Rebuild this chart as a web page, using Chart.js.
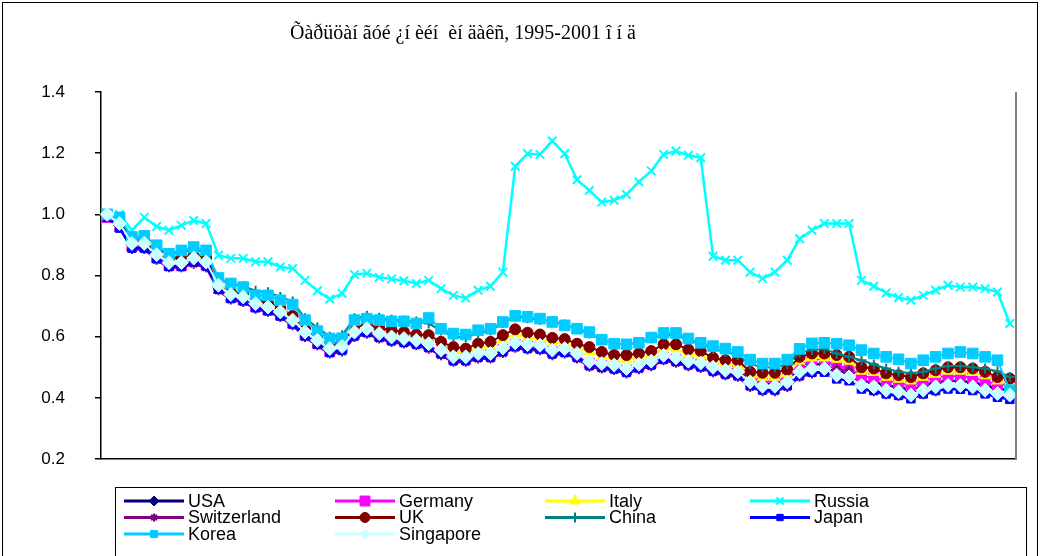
<!DOCTYPE html>
<html>
<head>
<meta charset="utf-8">
<script src="https://cdn.jsdelivr.net/npm/chart.js@4.4.1/dist/chart.umd.min.js"></script>
<style>
html,body{margin:0;padding:0;background:#fff;}
#wrap{position:relative;width:1041px;height:556px;}
</style>
</head>
<body>
<div id="wrap"><canvas id="c" width="1041" height="556"></canvas></div>
<script>
const titleText = "Õàðüöàí ãóé ¿í èéí  èí äàêñ, 1995-2001 î í ä";

const categories = [
"1995-01","1995-02","1995-03","1995-04","1995-05","1995-06","1995-07","1995-08","1995-09","1995-10","1995-11","1995-12",
"1996-01","1996-02","1996-03","1996-04","1996-05","1996-06","1996-07","1996-08","1996-09","1996-10","1996-11","1996-12",
"1997-01","1997-02","1997-03","1997-04","1997-05","1997-06","1997-07","1997-08","1997-09","1997-10","1997-11","1997-12",
"1998-01","1998-02","1998-03","1998-04","1998-05","1998-06","1998-07","1998-08","1998-09","1998-10","1998-11","1998-12",
"1999-01","1999-02","1999-03","1999-04","1999-05","1999-06","1999-07","1999-08","1999-09","1999-10","1999-11","1999-12",
"2000-01","2000-02","2000-03","2000-04","2000-05","2000-06","2000-07","2000-08","2000-09","2000-10","2000-11","2000-12",
"2001-01","2001-02"];

const seriesNames = ["USA","Germany","Italy","Russia","Switzerland","UK","China","Japan","Korea","Singapore"];

const usa = [1.00,0.965,0.9,0.9,0.865,0.84,0.84,0.855,0.842,0.765, 0.735,0.728,0.705,0.695,0.678,0.65,0.612,0.585,0.558,0.566, 0.612,0.623,0.607,0.597,0.592,0.585,0.575,0.553,0.532,0.532, 0.543,0.543,0.56,0.578,0.572,0.57,0.553,0.558,0.543,0.516, 0.51,0.505,0.494,0.508,0.518,0.537,0.529,0.518,0.512,0.498, 0.488,0.49,0.46,0.446,0.446,0.46,0.492,0.51,0.51,0.488, 0.482,0.455,0.45,0.44,0.435,0.424,0.44,0.45,0.456,0.455, 0.45,0.44,0.43,0.425];
const germany = [0.99,0.96,0.895,0.895,0.858,0.832,0.832,0.847,0.834,0.758, 0.728,0.72,0.698,0.687,0.671,0.644,0.605,0.578,0.551,0.563, 0.61,0.621,0.605,0.594,0.589,0.583,0.572,0.551,0.529,0.529, 0.54,0.54,0.558,0.575,0.569,0.567,0.551,0.556,0.54,0.513, 0.507,0.502,0.491,0.505,0.515,0.534,0.526,0.515,0.509,0.495, 0.485,0.50,0.467,0.453,0.453,0.467,0.50,0.526,0.526,0.504, 0.498,0.471,0.466,0.455,0.45,0.439,0.455,0.466,0.471,0.47, 0.466,0.455,0.444,0.442];
const italy = [0.995,0.965,0.902,0.902,0.868,0.847,0.852,0.857,0.85,0.757, 0.735,0.73,0.71,0.70,0.683,0.656,0.613,0.586,0.562,0.572, 0.613,0.628,0.613,0.606,0.60,0.592,0.59,0.568,0.551,0.546, 0.562,0.568,0.59,0.609,0.598,0.592,0.581,0.577,0.562,0.551, 0.535,0.525,0.525,0.53,0.538,0.56,0.56,0.543,0.538,0.516, 0.508,0.508,0.47,0.467,0.467,0.478,0.52,0.53,0.53,0.526, 0.52,0.487,0.483,0.467,0.461,0.455,0.467,0.477,0.487,0.487, 0.483,0.472,0.455,0.452];
const russia = [1.00,1.00,0.948,0.99,0.96,0.948,0.964,0.98,0.97,0.866, 0.856,0.856,0.845,0.845,0.828,0.823,0.784,0.75,0.723,0.741, 0.803,0.807,0.794,0.789,0.783,0.774,0.784,0.757,0.735,0.726, 0.752,0.765,0.811,1.157,1.198,1.196,1.24,1.198,1.113,1.078, 1.04,1.046,1.065,1.106,1.142,1.196,1.207,1.193,1.185,0.863, 0.85,0.85,0.811,0.79,0.811,0.85,0.92,0.948,0.97,0.97, 0.97,0.784,0.765,0.743,0.728,0.719,0.735,0.752,0.768,0.762, 0.762,0.757,0.746,0.643];
const switzerland = [0.99,0.955,0.885,0.885,0.85,0.825,0.825,0.837,0.825,0.75, 0.72,0.712,0.69,0.68,0.663,0.636,0.597,0.57,0.543,0.55, 0.597,0.608,0.592,0.581,0.576,0.57,0.559,0.538,0.516,0.516, 0.527,0.527,0.545,0.562,0.556,0.554,0.538,0.543,0.527,0.50, 0.494,0.489,0.478,0.492,0.502,0.521,0.513,0.502,0.496,0.482, 0.472,0.467,0.434,0.42,0.42,0.434,0.467,0.478,0.485,0.495, 0.49,0.428,0.42,0.41,0.405,0.397,0.41,0.42,0.43,0.43, 0.425,0.415,0.405,0.40];
const uk = [1.00,0.97,0.91,0.91,0.875,0.855,0.86,0.865,0.858,0.765, 0.745,0.74,0.72,0.71,0.695,0.668,0.625,0.598,0.575,0.585, 0.628,0.643,0.628,0.621,0.615,0.607,0.605,0.583,0.566,0.561, 0.577,0.583,0.605,0.624,0.613,0.607,0.596,0.592,0.577,0.566, 0.55,0.54,0.54,0.545,0.553,0.575,0.575,0.558,0.553,0.531, 0.523,0.523,0.485,0.482,0.482,0.492,0.534,0.545,0.545,0.54, 0.534,0.50,0.496,0.48,0.474,0.468,0.48,0.49,0.50,0.50, 0.496,0.485,0.468,0.463];
const china = [1.00,0.98,0.92,0.92,0.89,0.87,0.875,0.885,0.875,0.785, 0.775,0.765,0.75,0.745,0.73,0.715,0.66,0.63,0.60,0.605, 0.66,0.668,0.662,0.655,0.652,0.65,0.643,0.62,0.60,0.598, 0.61,0.62,0.645,0.665,0.66,0.655,0.65,0.64,0.625,0.61, 0.59,0.578,0.575,0.58,0.595,0.605,0.605,0.59,0.575,0.56, 0.55,0.54,0.51,0.50,0.50,0.51,0.548,0.556,0.56,0.545, 0.534,0.523,0.509,0.496,0.485,0.48,0.485,0.496,0.504,0.504, 0.50,0.496,0.487,0.468];
const japan = [0.99,0.955,0.89,0.89,0.855,0.83,0.83,0.845,0.832,0.755, 0.725,0.718,0.695,0.685,0.668,0.642,0.603,0.576,0.549,0.556, 0.603,0.614,0.598,0.587,0.582,0.576,0.565,0.544,0.522,0.522, 0.533,0.533,0.551,0.568,0.562,0.56,0.544,0.549,0.533,0.506, 0.50,0.495,0.484,0.498,0.508,0.527,0.519,0.508,0.502,0.488, 0.478,0.473,0.44,0.426,0.426,0.44,0.473,0.484,0.484,0.462, 0.456,0.429,0.424,0.413,0.408,0.397,0.413,0.424,0.429,0.428, 0.424,0.413,0.402,0.395];
const korea = [1.00,0.99,0.926,0.93,0.899,0.871,0.882,0.893,0.882,0.792, 0.774,0.762,0.735,0.735,0.719,0.705,0.654,0.618,0.594,0.595, 0.654,0.659,0.654,0.65,0.65,0.643,0.661,0.626,0.61,0.607, 0.621,0.626,0.648,0.668,0.665,0.659,0.648,0.637,0.626,0.615, 0.59,0.577,0.575,0.58,0.597,0.612,0.612,0.594,0.58,0.569, 0.561,0.55,0.525,0.512,0.512,0.525,0.56,0.578,0.58,0.577, 0.572,0.556,0.545,0.534,0.526,0.512,0.523,0.534,0.545,0.55, 0.545,0.534,0.523,0.425];
const singapore = [1.00,0.97,0.905,0.905,0.868,0.842,0.842,0.857,0.844,0.768, 0.738,0.73,0.708,0.697,0.681,0.654,0.615,0.588,0.561,0.568, 0.615,0.626,0.61,0.599,0.594,0.588,0.577,0.556,0.534,0.534, 0.545,0.545,0.563,0.58,0.574,0.572,0.556,0.561,0.545,0.518, 0.512,0.507,0.496,0.51,0.52,0.539,0.531,0.52,0.514,0.50, 0.49,0.485,0.452,0.438,0.438,0.452,0.485,0.496,0.496,0.474, 0.468,0.441,0.436,0.425,0.42,0.409,0.425,0.436,0.441,0.44, 0.436,0.425,0.414,0.409];

const yTicks = [0.2,0.4,0.6,0.8,1.0,1.2,1.4];

const seriesValues = [usa,germany,italy,russia,switzerland,uk,china,japan,korea,singapore];
const styles = [
  {color:'#000080', fill:'#000080', point:'rectRot', r:6, w:2},
  {color:'#FF00FF', fill:'#FF00FF', point:'rect', r:7, w:2},
  {color:'#FFFF00', fill:'#FFFF00', point:'triangle', r:6, w:2},
  {color:'#00FFFF', fill:'#00FFFF', point:'crossRot', r:6, w:2.5},
  {color:'#800080', fill:'#800080', point:'star', r:4.5, w:2},
  {color:'#800000', fill:'#800000', point:'circle', r:5.5, w:2},
  {color:'#008080', fill:'#008080', point:'cross', r:5, w:2},
  {color:'#0000FF', fill:'#0000FF', point:'rect', r:6, w:2.5},
  {color:'#00CCFF', fill:'#00CCFF', point:'rect', r:7.5, w:2},
  {color:'#CCFFFF', fill:'#CCFFFF', point:'rectRot', r:7, w:2}
];

const datasets = seriesNames.map((name,i)=>({
  label: name,
  data: seriesValues[i],
  borderColor: styles[i].color,
  backgroundColor: styles[i].fill,
  pointBackgroundColor: styles[i].fill,
  pointBorderColor: styles[i].color,
  pointStyle: styles[i].point,
  pointRadius: styles[i].r,
  pointHoverRadius: styles[i].r,
  pointBorderWidth: (styles[i].point==='cross'||styles[i].point==='crossRot'||styles[i].point==='star') ? 2 : 1,
  borderWidth: styles[i].w,
  tension: 0,
  fill: false,
  order: seriesNames.length - i
}));

const legendMarkerR = [5,7,6,5,4,5,5,4.5,5,5];

const decor = {
  id:'decor',
  afterDraw(chart){
    const ctx = chart.ctx;
    const ca = chart.chartArea;
    ctx.save();
    ctx.strokeStyle = '#000';
    ctx.lineWidth = 1;
    ctx.strokeRect(2.5,2.5,1035,600);
    ctx.strokeStyle = '#808080';
    ctx.lineWidth = 2;
    ctx.beginPath();
    ctx.moveTo(ca.right, ca.top);
    ctx.lineTo(ca.right, ca.bottom);
    ctx.stroke();
    ctx.fillStyle = '#000';
    ctx.font = '20px "Liberation Serif"';
    ctx.textAlign = 'center';
    ctx.textBaseline = 'middle';
    ctx.fillText(titleText, 463, 34);
    ctx.strokeStyle = '#000';
    ctx.lineWidth = 1;
    ctx.strokeRect(115.5,487.5,911,100);
    const colX = [124,335,545,750];
    const rowY = [501,517.5,534];
    ctx.font = '18px "Liberation Sans"';
    ctx.textAlign = 'left';
    chart.data.datasets.forEach((ds,i)=>{
      const col = i % 4, row = Math.floor(i/4);
      const x0 = colX[col], y = rowY[row];
      ctx.strokeStyle = ds.borderColor;
      ctx.lineWidth = 3;
      ctx.beginPath();
      ctx.moveTo(x0,y); ctx.lineTo(x0+60,y); ctx.stroke();
      ctx.fillStyle = ds.pointBackgroundColor;
      ctx.strokeStyle = ds.pointBorderColor;
      ctx.lineWidth = ds.pointBorderWidth;
      Chart.helpers.drawPoint(ctx,{pointStyle:ds.pointStyle, radius:legendMarkerR[i], borderWidth:ds.pointBorderWidth, rotation:0}, x0+30, y);
      ctx.fillStyle = '#000';
      ctx.textBaseline = 'middle';
      ctx.fillText(ds.label, x0+64, y+1);
    });
    ctx.restore();
  }
};

new Chart(document.getElementById('c'), {
  type:'line',
  data:{labels:categories, datasets},
  options:{
    responsive:false,
    animation:false,
    devicePixelRatio:1,
    layout:{padding:{left:0,right:25,top:92,bottom:97}},
    plugins:{legend:{display:false}, title:{display:false}, tooltip:{enabled:false}},
    scales:{
      x:{
        type:'category',
        offset:true,
        grid:{display:false, drawTicks:false},
        border:{display:true, color:'#000', width:1.5},
        ticks:{display:false},
        afterFit(s){ s.height = 0; }
      },
      y:{
        min:0.2, max:1.4,
        afterBuildTicks(s){ s.ticks = yTicks.map(v=>({value:v})); },
        ticks:{
          callback:(v)=>Number(v).toFixed(1),
          color:'#000',
          font:{family:'"Liberation Sans"', size:17},
          padding:30
        },
        grid:{drawOnChartArea:false, drawTicks:true, tickLength:6, color:'#000', lineWidth:1.5},
        border:{display:true, color:'#000', width:1.5},
        afterFit(s){ s.width = 101; }
      }
    }
  },
  plugins:[decor]
});
</script>
</body>
</html>
